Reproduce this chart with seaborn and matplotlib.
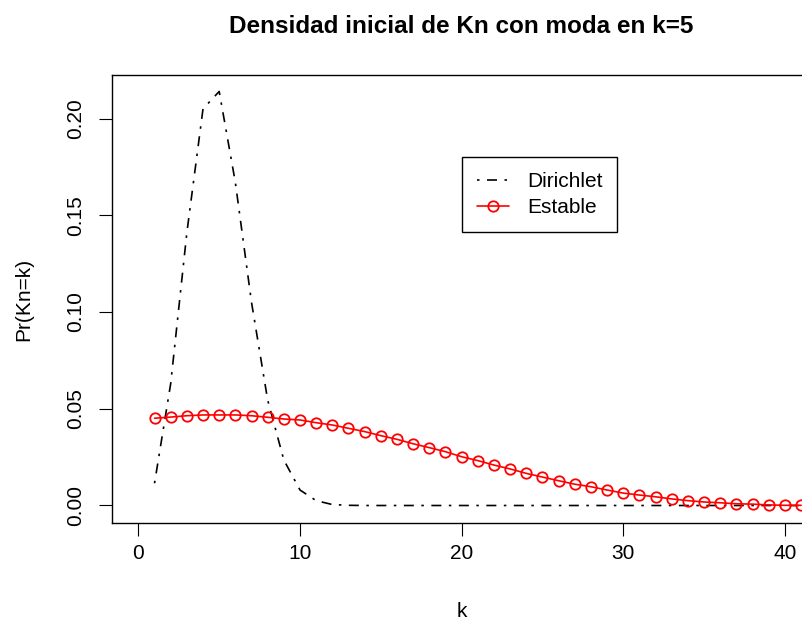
import numpy as np
import pandas as pd
import matplotlib
matplotlib.use("Agg")
import matplotlib.pyplot as plt
import seaborn as sns

# Prior distribution of the number of groups Kn, k = 1..41
k_vals = list(range(1, 42))
dirichlet = [0.0115, 0.063, 0.141, 0.205, 0.214, 0.167, 0.105, 0.0545, 0.0235,
             0.008, 0.0025, 0.0005, 0.0001] + [0.0] * 28
estable = [0.0451, 0.0457, 0.0464, 0.0468, 0.0468, 0.0468, 0.0464, 0.0456, 0.0447,
           0.0442, 0.0428, 0.0416, 0.0399, 0.0382, 0.0361, 0.0342, 0.0319, 0.0299,
           0.0278, 0.0252, 0.0232, 0.0209, 0.0189, 0.0166, 0.0147, 0.0128, 0.0110,
           0.0097, 0.0080, 0.0064, 0.0054, 0.0045, 0.0034, 0.0025, 0.0018, 0.0014,
           0.0009, 0.0007, 0.0003, 0.0001, 0.0001]

x_ticks = [0, 10, 20, 30, 40]
y_ticks = [0.00, 0.05, 0.10, 0.15, 0.20]
y_tick_labels = ["0.00", "0.05", "0.10", "0.15", "0.20"]

df = pd.DataFrame({"k": k_vals, "Dirichlet": dirichlet, "Estable": estable})

sns.set_style("white")
plt.rcParams["font.family"] = ["Liberation Sans", "DejaVu Sans"]
plt.rcParams["text.color"] = "black"
plt.rcParams["axes.labelcolor"] = "black"
plt.rcParams["xtick.color"] = "black"
plt.rcParams["ytick.color"] = "black"

W, H = 803, 623
fig = plt.figure(figsize=(W / 100, H / 100), dpi=100)
# plotting region (right edge runs slightly past the canvas)
left_px, right_px, top_px, bottom_px = 112.5, 810.8, 75.0, 523.3
ax = fig.add_axes([left_px / W, 1 - bottom_px / H,
                   (right_px - left_px) / W, (bottom_px - top_px) / H])

sns.lineplot(data=df, x="k", y="Dirichlet", ax=ax, color="black",
             linewidth=1.2, label="Dirichlet")
ax.lines[-1].set_linestyle((0, (1.5, 4.5, 6.0, 4.5)))

sns.lineplot(data=df, x="k", y="Estable", ax=ax, color="red", linewidth=1.2,
             marker="o", markersize=7.5, markerfacecolor="none",
             markeredgecolor="red", markeredgewidth=1.3, label="Estable")

ax.set_xlim(-1.6, 41.6)
ax.set_ylim(-0.0092, 0.2225)
ax.set_xticks(x_ticks)
ax.set_xticklabels([str(v) for v in x_ticks])
ax.set_yticks(y_ticks)
ax.set_yticklabels(y_tick_labels, rotation=90, va="center")

for s in ax.spines.values():
    s.set_visible(True)
    s.set_color("black")
    s.set_linewidth(1.0)

ax.tick_params(axis="both", which="major", direction="out", length=9.1,
               width=0.8, color="black", labelsize=15, labelcolor="black",
               bottom=True, left=True, top=False, right=False)
ax.tick_params(axis="x", pad=5.5)
ax.tick_params(axis="y", pad=10.5)

ax.set_xlabel("k", fontsize=15, color="black")
ax.set_ylabel("Pr(Kn=k)", fontsize=15, color="black")
ax.xaxis.set_label_coords(0.5, -0.175)
ax.yaxis.set_label_coords(-0.1138, 0.5)

ax.set_title("Densidad inicial de Kn con moda en k=5", fontsize=17.5,
             fontweight="bold", pad=30.5, color="black")

leg = ax.legend(loc="upper left", bbox_to_anchor=(462 / W, 1 - 157 / H),
                bbox_transform=fig.transFigure, borderaxespad=0,
                fontsize=15, frameon=True, fancybox=False, framealpha=1,
                edgecolor="black", handlelength=1.55, handletextpad=0.85,
                borderpad=0.72, labelspacing=0.35, numpoints=1)
leg.get_frame().set_linewidth(1.0)
for t in leg.get_texts():
    t.set_color("black")

fig.savefig("out.png", dpi=100, facecolor="white")
